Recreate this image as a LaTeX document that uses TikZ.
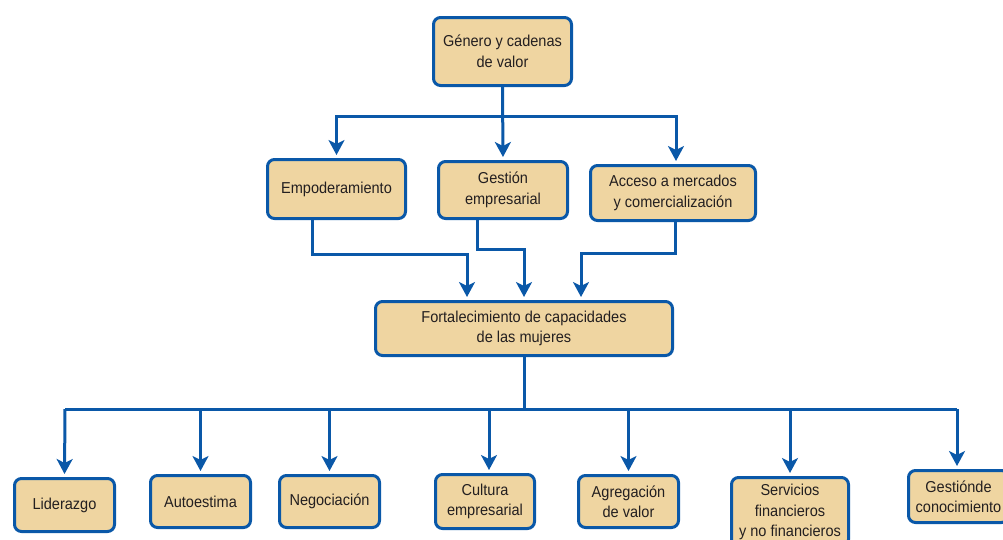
\documentclass[tikz,border=0pt]{standalone}
\usepackage{fontspec}
\setmainfont[FakeStretch=0.92]{Liberation Sans}
\usetikzlibrary{arrows.meta}
\definecolor{boxblue}{RGB}{10,88,168}
\definecolor{boxfill}{RGB}{239,213,161}
\definecolor{txt}{RGB}{35,31,32}
\tikzset{
  box/.style={draw=boxblue, fill=boxfill, line width=3pt, rounded corners=7pt,
    align=center, text=txt, inner sep=0pt,
    font=\fontsize{15.8}{20.5}\selectfont},
  conn/.style={draw=boxblue, line width=3pt},
  arr/.style={conn, -{Stealth[width=16pt,length=15pt,inset=4pt]}, shorten >=3pt}
}
\begin{document}
\begin{tikzpicture}[x=1pt,y=-1pt]
\useasboundingbox (0,0) rectangle (1003,539);
\clip (0,0) rectangle (1003,539);
% nodes
\node[box, minimum width=138, minimum height=68] (gen) at (502.5,51.5) {Género y cadenas\\de valor};
\node[box, minimum width=138, minimum height=59] (emp) at (336.5,189) {Empoderamiento};
\node[box, minimum width=129, minimum height=57] (ges) at (503,190) {Gestión\\empresarial};
\node[box, minimum width=165, minimum height=55] (acc) at (673,193) {Acceso a mercados\\y comercialización};
\node[box, minimum width=297, minimum height=54] (fort) at (524,328.5) {Fortalecimiento de capacidades\\de las mujeres};
\node[box, minimum width=100, minimum height=53] (lid) at (64.5,505) {Liderazgo};
\node[box, minimum width=100, minimum height=52] (aut) at (200.5,501.5) {Autoestima};
\node[box, minimum width=100, minimum height=52] (neg) at (329.5,501.5) {Negociación};
\node[box, minimum width=99, minimum height=54] (cul) at (485,501.5) {Cultura\\empresarial};
\node[box, minimum width=100, minimum height=52] (agr) at (628.5,501.5) {Agregación\\de valor};
\node[box, minimum width=117, minimum height=69] (ser) at (790,512) {Servicios\\financieros\\y no financieros};
\node[box, minimum width=100, minimum height=52] (gcon) at (958.5,496.5) {Gestiónde\\conocimiento};
% top connectors
\coordinate (j1) at (502.5,116);
\draw[arr] (gen.south) -- (ges.north);
\draw[arr] (j1) -| (emp.north);
\draw[arr] (j1) -| ([xshift=3]acc.north);
% middle connectors
\coordinate (e1) at (312,254);
\coordinate (e2) at (467,254);
\draw[arr] (emp.south -| e1) -- (e1) -- (e2) -- (e2 |- fort.north);
\coordinate (g1) at (477,249);
\draw[arr] (ges.south -| g1) -- (g1) -| (fort.north);
\coordinate (a1) at (675,253);
\coordinate (a2) at (581,253);
\draw[arr] (acc.south -| a1) -- (a1) -- (a2) -- (a2 |- fort.north);
% bottom connectors
\coordinate (b) at (524,409);
\coordinate (bl) at (65,409);
\coordinate (br) at (957,409);
\draw[conn] (fort.south) -- (b);
\draw[conn] (bl) -- (br);
\draw[arr] (bl) -- (lid.north);
\draw[arr] (b -| aut.north) -- (aut.north);
\draw[arr] (b -| neg.north) -- (neg.north);
\draw[arr] ([xshift=4]b -| cul.north) -- ([xshift=4]cul.north);
\draw[arr] (b -| agr.north) -- (agr.north);
\draw[arr] (b -| ser.north) -- (ser.north);
\draw[arr] (br) -- (br |- gcon.north);
\end{tikzpicture}
\end{document}
